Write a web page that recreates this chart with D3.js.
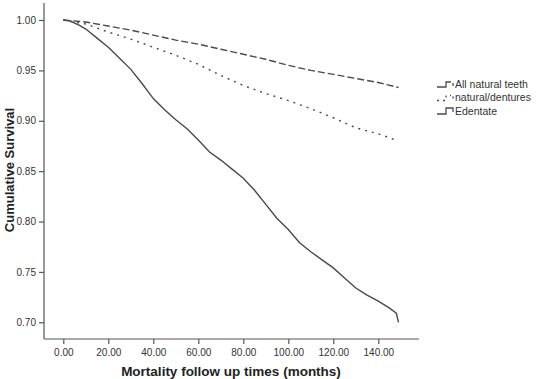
<!DOCTYPE html>
<html>
<head>
<meta charset="utf-8">
<script src="https://cdn.jsdelivr.net/npm/d3@7"></script>
<style>
  body { margin: 0; background: #fff; }
  svg { display: block; font-family: "Liberation Sans", Arial, sans-serif; }
</style>
</head>
<body>
<svg id="chart"></svg>
<script>
// survival curves (months, cumulative survival)
const allNaturalMonths = [0, 10, 20, 30, 40, 50, 60, 70, 80, 90, 100, 110, 120, 130, 140, 149];
const allNaturalSurv   = [1.000, 0.998, 0.994, 0.990, 0.985, 0.980, 0.976, 0.971, 0.966, 0.961, 0.955, 0.950, 0.946, 0.942, 0.938, 0.933];

const denturesMonths = [0, 10, 20, 30, 40, 50, 60, 70, 80, 90, 100, 110, 120, 130, 140, 149];
const denturesSurv   = [1.000, 0.996, 0.988, 0.981, 0.973, 0.965, 0.956, 0.945, 0.935, 0.927, 0.920, 0.912, 0.903, 0.893, 0.887, 0.880];

const edentateMonths = [0, 3, 7, 10, 15, 20, 25, 30, 35, 40, 45, 50, 55, 60, 65, 70, 75, 80, 85, 90, 95, 100,
                        105, 110, 115, 120, 125, 130, 135, 140, 145, 148, 149];
const edentateSurv   = [1.000, 0.999, 0.995, 0.991, 0.982, 0.973, 0.962, 0.951, 0.937, 0.922, 0.911, 0.901, 0.892,
                        0.881, 0.869, 0.861, 0.852, 0.843, 0.831, 0.817, 0.803, 0.792, 0.779, 0.770, 0.762, 0.754,
                        0.744, 0.734, 0.727, 0.721, 0.714, 0.709, 0.700];

const xTicks = [0, 20, 40, 60, 80, 100, 120, 140];
const yTicks = [0.70, 0.75, 0.80, 0.85, 0.90, 0.95, 1.00];
const legendNames = ["All natural teeth", "natural/dentures", "Edentate"];

const width = 537, height = 379;
const axisX = 44, axisY = 339, axisTop = 3, axisRight = 419;

const svg = d3.select("#chart")
  .attr("width", width)
  .attr("height", height)
  .attr("viewBox", [0, 0, width, height]);

const x = d3.scaleLinear([0, 140], [63.3, 378.3]);
const y = d3.scaleLinear([0.70, 1.00], [322.3, 20]);

const ink = "#333";

// axis lines
svg.append("line")
  .attr("x1", axisX).attr("x2", axisX).attr("y1", axisTop).attr("y2", axisY)
  .attr("stroke", "#555").attr("stroke-width", 1.2);
svg.append("line")
  .attr("x1", axisX).attr("x2", axisRight).attr("y1", axisY).attr("y2", axisY)
  .attr("stroke", "#555").attr("stroke-width", 1.2);

// y axis
svg.append("g")
  .attr("transform", `translate(${axisX},0)`)
  .call(d3.axisLeft(y).tickValues(yTicks).tickFormat(d3.format(".2f")).tickSize(5).tickPadding(3))
  .call(g => g.select(".domain").remove())
  .call(g => g.selectAll(".tick line").attr("stroke", "#555").attr("stroke-width", 1.2))
  .call(g => g.selectAll(".tick text")
      .attr("font-family", "Liberation Sans, Arial, sans-serif")
      .attr("font-size", 10).attr("fill", ink));

// x axis
svg.append("g")
  .attr("transform", `translate(0,${axisY})`)
  .call(d3.axisBottom(x).tickValues(xTicks).tickFormat(d3.format(".2f")).tickSize(5).tickPadding(5))
  .call(g => g.select(".domain").remove())
  .call(g => g.selectAll(".tick line").attr("stroke", "#555").attr("stroke-width", 1.2))
  .call(g => g.selectAll(".tick text")
      .attr("font-family", "Liberation Sans, Arial, sans-serif")
      .attr("font-size", 10).attr("fill", ink));

// axis titles
svg.append("text")
  .attr("x", 231).attr("y", 376)
  .attr("text-anchor", "middle")
  .attr("font-size", 13.5).attr("font-weight", "bold").attr("fill", "#222")
  .text("Mortality follow up times (months)");
svg.append("text")
  .attr("transform", "translate(14,170) rotate(-90)")
  .attr("text-anchor", "middle")
  .attr("font-size", 13).attr("font-weight", "bold").attr("fill", "#222")
  .text("Cumulative Survival");

// curves
const series = [
  {name: legendNames[0], months: allNaturalMonths, surv: allNaturalSurv, dash: "7,3"},
  {name: legendNames[1], months: denturesMonths, surv: denturesSurv, dash: "2,5"},
  {name: legendNames[2], months: edentateMonths, surv: edentateSurv, dash: null}
];

const line = d3.line();
svg.append("g")
  .attr("fill", "none")
  .attr("stroke", "#4a4a4a")
  .attr("stroke-width", 1.4)
  .selectAll("path")
  .data(series)
  .join("path")
    .attr("stroke-dasharray", d => d.dash)
    .attr("d", d => line(d.months.map((m, i) => [x(m), y(d.surv[i])])));

// legend
const legend = svg.selectAll(".legend")
  .data(series)
  .join("g")
    .attr("class", "legend")
    .attr("transform", (d, i) => `translate(437,${84 + i * 13.5})`);

legend.append("path")
  .attr("fill", "none")
  .attr("stroke", "#4a4a4a")
  .attr("stroke-width", 1.3)
  .attr("stroke-dasharray", (d, i) => i === 1 ? "2,4" : null)
  .attr("d", (d, i) => i === 2 ? "M0,3H9V-3H16V1" : "M0,3H9V-2H14M16,-1V2");

legend.append("text")
  .attr("x", 18).attr("y", 0)
  .attr("dy", "0.35em")
  .attr("font-size", 10.5).attr("fill", ink)
  .text(d => d.name);
</script>
</body>
</html>
